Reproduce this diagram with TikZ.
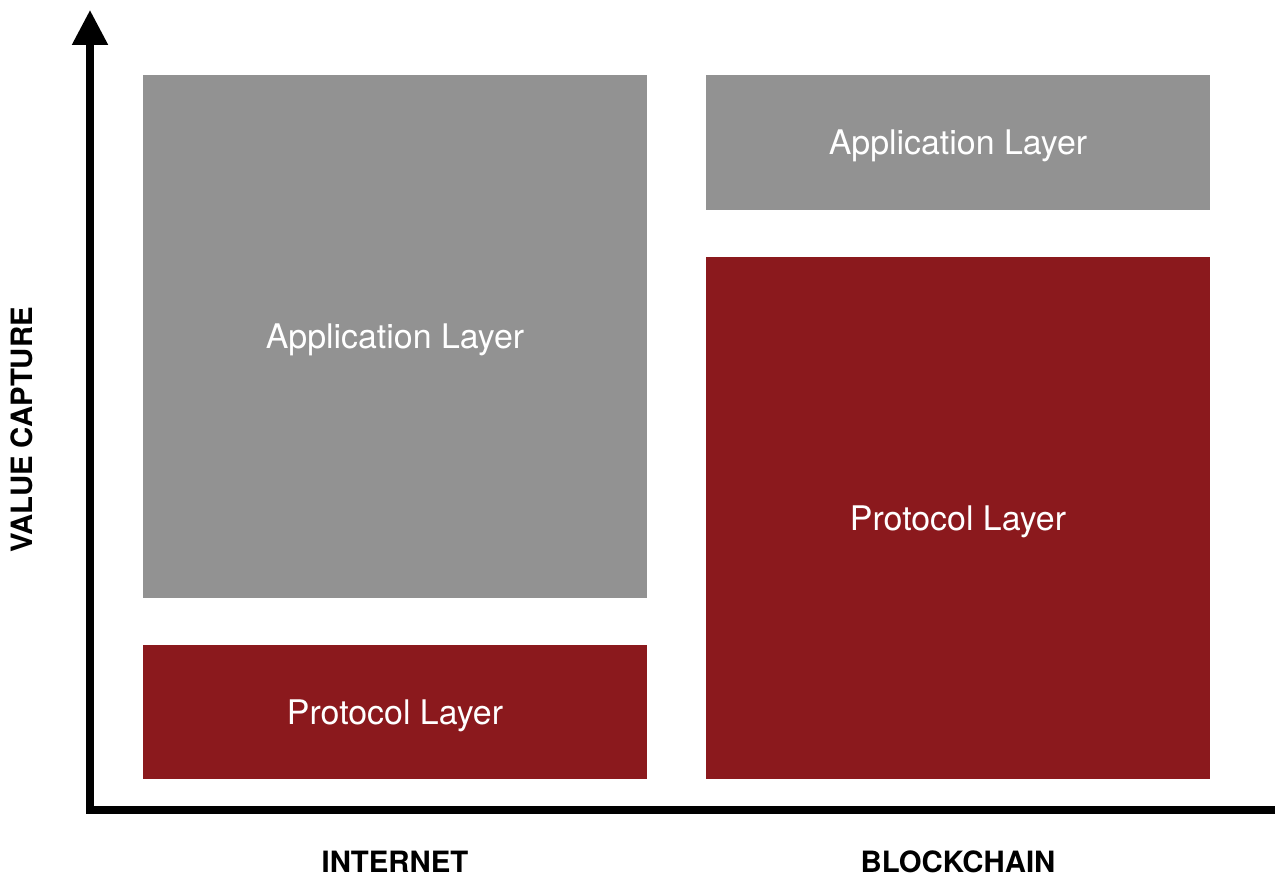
\documentclass[tikz,border=0pt]{standalone}
\usepackage{fontspec}
\setmainfont{TeX Gyre Heros}
\usetikzlibrary{arrows.meta}
\definecolor{layerGray}{RGB}{146, 146, 146}
\definecolor{layerRed}{RGB}{139, 25, 29}

\tikzset{
  layer/.style={inner sep=0pt, text=white, text depth=-2pt, font=\fontsize{19.3}{23}\selectfont},
  applayer/.style={layer, fill=layerGray},
  protolayer/.style={layer, fill=layerRed},
  axislabel/.style={font=\fontsize{16.7}{20}\selectfont\bfseries}
}

\begin{document}
\begin{tikzpicture}[x=0.02cm, y=-0.02cm]
    \useasboundingbox (0,0) rectangle (1276,880);

    % Axes
    \coordinate (ytop) at (90,10);
    \coordinate (origin) at (90,810);
    \coordinate (xend) at (1275,810);
    \draw[line width=4pt, {Triangle[width=19.5pt, length=19.8pt]}-] (ytop) -- (origin) -- (xend);

    % Internet column
    \node[applayer, minimum width=10.08cm, minimum height=10.46cm] (inetapp) at (395,336.5) {Application Layer};
    \node[protolayer, minimum width=10.08cm, minimum height=2.68cm] (inetproto) at (395,712) {Protocol Layer};

    % Blockchain column
    \node[applayer, minimum width=10.08cm, minimum height=2.70cm] (chainapp) at (958,142.5) {Application Layer};
    \node[protolayer, minimum width=10.08cm, minimum height=10.44cm] (chainproto) at (958,518) {Protocol Layer};

    % Labels
    \node[axislabel] (inetlabel) at (395,862) {INTERNET};
    \node[axislabel] (chainlabel) at (958,862) {BLOCKCHAIN};
    \node[axislabel, rotate=90] (vclabel) at (22,430) {VALUE CAPTURE};
\end{tikzpicture}
\end{document}
